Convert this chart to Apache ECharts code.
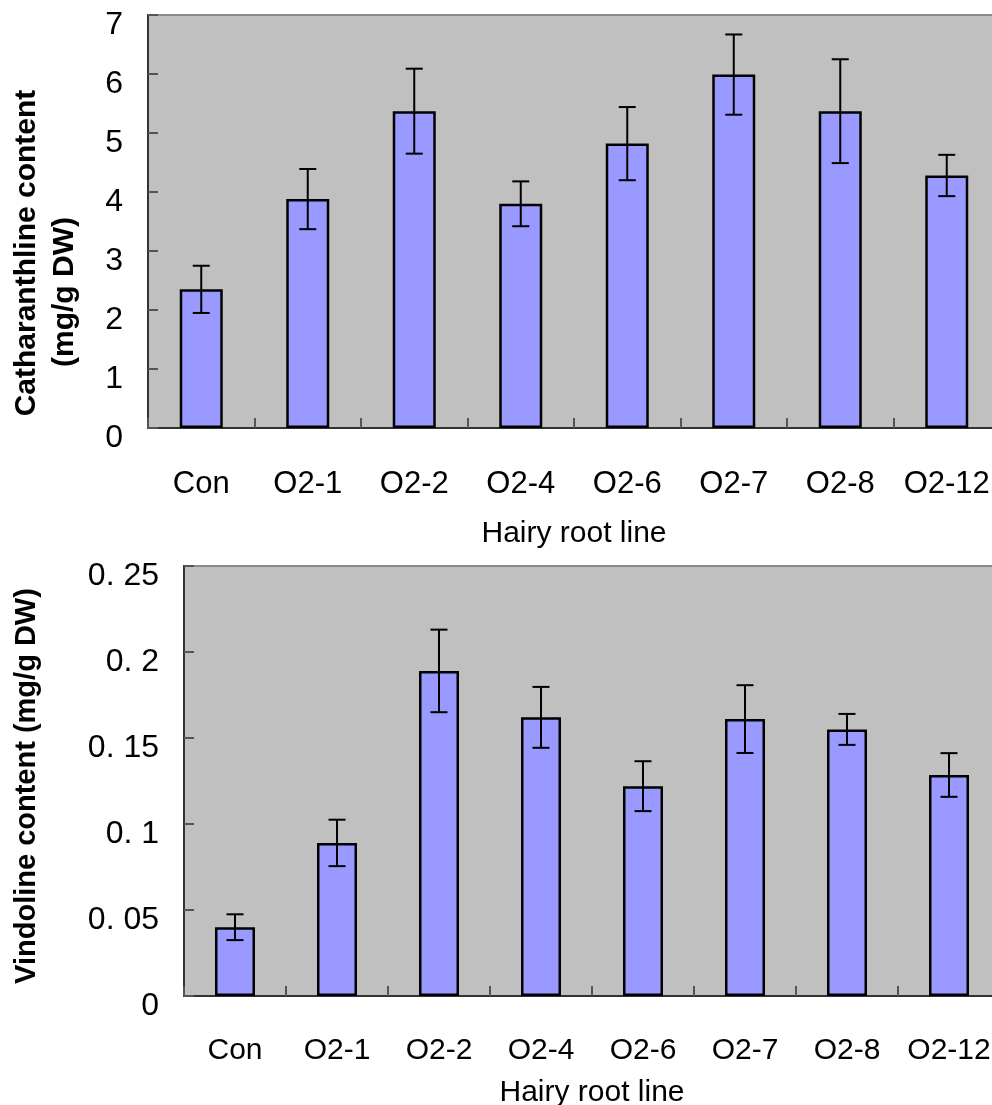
<!DOCTYPE html>
<html>
<head>
<meta charset="utf-8">
<script src="https://cdn.jsdelivr.net/npm/echarts@6/dist/echarts.min.js"></script>
<style>
html,body{margin:0;padding:0;background:#fff;}
#chart{width:992px;height:1105px;}
</style>
</head>
<body>
<div id="chart"></div>
<script>
// ---- data ----
const categories = ['Con', 'O2-1', 'O2-2', 'O2-4', 'O2-6', 'O2-7', 'O2-8', 'O2-12'];
const catharanthine = [2.35, 3.88, 5.37, 3.80, 4.82, 5.99, 5.37, 4.28];
const catharanthineErr = [0.40, 0.51, 0.72, 0.38, 0.62, 0.68, 0.88, 0.35];
const vindoline = [0.040, 0.089, 0.189, 0.162, 0.122, 0.161, 0.155, 0.1285];
const vindolineErr = [0.0075, 0.0135, 0.024, 0.0177, 0.0145, 0.0197, 0.009, 0.0127];
const topTickLabels = ['0', '1', '2', '3', '4', '5', '6', '7'];
const bottomTickLabels = ['0', '0. 05', '0. 1', '0. 15', '0. 2', '0. 25'];
const xName = 'Hairy root line';
const topYName1 = 'Catharanthline content';
const topYName2 = '(mg/g DW)';
const bottomYName = 'Vindoline content (mg/g DW)';

const FONT = '"Liberation Sans", Arial, sans-serif';

function errData(vals, errs) {
  return vals.map((v, i) => [i, v - errs[i], v + errs[i]]);
}

function errRender(capHalf) {
  return function (params, api) {
    const x = api.value(0);
    const lo = api.coord([x, api.value(1)]);
    const hi = api.coord([x, api.value(2)]);
    const st = { stroke: '#000', lineWidth: 2 };
    return {
      type: 'group',
      children: [
        { type: 'line', shape: { x1: lo[0], y1: lo[1], x2: hi[0], y2: hi[1] }, style: st },
        { type: 'line', shape: { x1: lo[0] - capHalf, y1: lo[1], x2: lo[0] + capHalf, y2: lo[1] }, style: st },
        { type: 'line', shape: { x1: hi[0] - capHalf, y1: hi[1], x2: hi[0] + capHalf, y2: hi[1] }, style: st }
      ]
    };
  };
}

function xAxisCfg(gridIndex, fontSize, margin, nameGap) {
  return {
    type: 'category', gridIndex: gridIndex, data: categories,
    boundaryGap: true,
    axisLine: { show: true, lineStyle: { color: '#333', width: 2 } },
    axisTick: { show: true, inside: true, length: 10, lineStyle: { color: '#555', width: 2 } },
    axisLabel: { color: '#000', fontFamily: FONT, fontSize: fontSize, margin: margin, interval: 0 },
    name: xName, nameLocation: 'middle', nameGap: nameGap,
    nameTextStyle: { color: '#000', fontFamily: FONT, fontSize: 30 },
    splitLine: { show: false }
  };
}

function yAxisCfg(gridIndex, max, interval, labels, fontSize, lh) {
  return {
    type: 'value', gridIndex: gridIndex, min: 0, max: max, interval: interval,
    axisLine: { show: true, lineStyle: { color: '#333', width: 2 } },
    axisTick: { show: true, inside: true, length: 10, lineStyle: { color: '#555', width: 2 } },
    axisLabel: {
      color: '#000', fontFamily: FONT, fontSize: fontSize, margin: 25,
      verticalAlign: 'top', lineHeight: lh,
      formatter: function (v) { return labels[Math.round(v / interval)]; }
    },
    splitLine: { show: false }
  };
}

const chart = echarts.init(document.getElementById('chart'), null, { renderer: 'canvas' });
chart.setOption({
  animation: false,
  backgroundColor: '#fff',
  grid: [
    { left: 148, top: 15, width: 852, height: 413, outerBoundsMode: 'none', containLabel: false, show: true, backgroundColor: '#c0c0c0', borderColor: '#8a8a8a', borderWidth: 2 },
    { left: 184, top: 566, width: 816, height: 430, outerBoundsMode: 'none', containLabel: false, show: true, backgroundColor: '#c0c0c0', borderColor: '#8a8a8a', borderWidth: 2 }
  ],
  xAxis: [
    xAxisCfg(0, 31, 41, 91),
    xAxisCfg(1, 30, 40, 82)
  ],
  yAxis: [
    yAxisCfg(0, 7, 1, topTickLabels, 32, 21),
    yAxisCfg(1, 0.25, 0.05, bottomTickLabels, 32, 20)
  ],
  series: [
    {
      type: 'bar', xAxisIndex: 0, yAxisIndex: 0, data: catharanthine, barWidth: 43,
      itemStyle: { color: '#9999ff', borderColor: '#000', borderWidth: 2.5 }
    },
    {
      type: 'custom', xAxisIndex: 0, yAxisIndex: 0, data: errData(catharanthine, catharanthineErr),
      renderItem: errRender(8.5), encode: { x: 0, y: [1, 2] }, z: 5
    },
    {
      type: 'bar', xAxisIndex: 1, yAxisIndex: 1, data: vindoline, barWidth: 40,
      itemStyle: { color: '#9999ff', borderColor: '#000', borderWidth: 2.5 }
    },
    {
      type: 'custom', xAxisIndex: 1, yAxisIndex: 1, data: errData(vindoline, vindolineErr),
      renderItem: errRender(8.5), encode: { x: 0, y: [1, 2] }, z: 5
    }
  ],
  graphic: [
    { type: 'text', x: 27, y: 253, rotation: Math.PI / 2,
      style: { text: topYName1, fill: '#000', font: 'bold 30px ' + FONT, textAlign: 'center', textVerticalAlign: 'middle' } },
    { type: 'text', x: 65, y: 292, rotation: Math.PI / 2,
      style: { text: topYName2, fill: '#000', font: 'bold 30px ' + FONT, textAlign: 'center', textVerticalAlign: 'middle' } },
    { type: 'text', x: 27, y: 786, rotation: Math.PI / 2,
      style: { text: bottomYName, fill: '#000', font: 'bold 29px ' + FONT, textAlign: 'center', textVerticalAlign: 'middle' } }
  ]
});
</script>
</body>
</html>
